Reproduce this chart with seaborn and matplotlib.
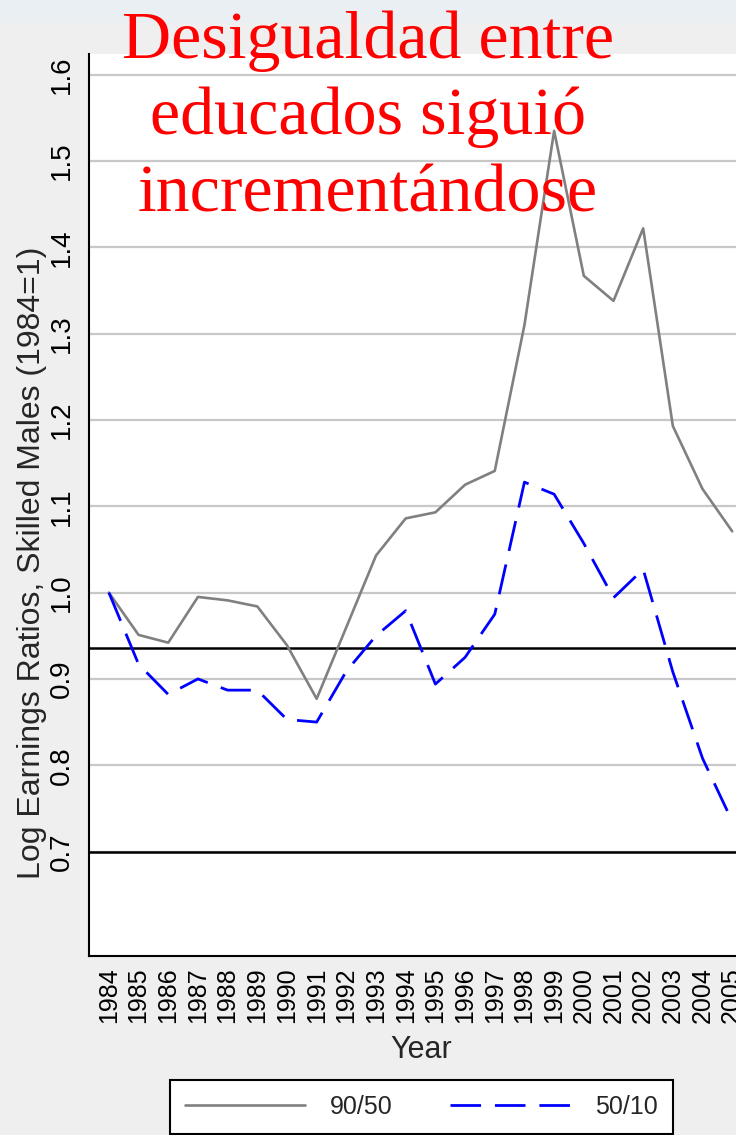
import numpy as np
import pandas as pd
import matplotlib
matplotlib.use("Agg")
import matplotlib.pyplot as plt
from matplotlib.patches import Rectangle
from matplotlib.lines import Line2D
import seaborn as sns

years = list(range(1984, 2006))
ratio_90_50 = [1.000, 0.951, 0.942, 0.995, 0.991, 0.984, 0.939, 0.877, 0.960, 1.043, 1.086,
               1.093, 1.125, 1.141, 1.310, 1.535, 1.367, 1.338, 1.422, 1.193, 1.120, 1.071]
ratio_50_10 = [1.000, 0.917, 0.882, 0.900, 0.887, 0.887, 0.853, 0.850, 0.909, 0.950, 0.979,
               0.894, 0.925, 0.975, 1.128, 1.114, 1.057, 0.994, 1.027, 0.908, 0.808, 0.735]
ref_lines = [0.936, 0.7]
title_lines = ["Desigualdad entre", "educados siguió", "incrementándose"]

df = pd.DataFrame({
    "year": years * 2,
    "ratio": ratio_90_50 + ratio_50_10,
    "series": ["90/50"] * len(years) + ["50/10"] * len(years),
})

sns.set_style("white")
plt.rcParams["font.family"] = ["Liberation Sans", "DejaVu Sans"]

W, H = 736, 1135
fig = plt.figure(figsize=(W / 100, H / 100), dpi=100, facecolor="#efefef")
fig.patches.append(Rectangle((0, 1 - 23 / H), 1, 23 / H, transform=fig.transFigure,
                             facecolor="#e9eff2", edgecolor="none", zorder=0))

ax = fig.add_axes([89 / W, 1 - 956 / H, (753 - 89) / W, (956 - 54) / H])
ax.set_facecolor("white")

sns.lineplot(data=df[df.series == "90/50"], x="year", y="ratio", color="#808080",
             linewidth=1.9, ax=ax, legend=False, zorder=3)
sns.lineplot(data=df[df.series == "50/10"], x="year", y="ratio", color="#0000ff",
             linewidth=2.0, ax=ax, legend=False, zorder=3)
ax.lines[1].set_dashes((11, 5))

for v in ref_lines:
    ax.axhline(v, color="black", linewidth=1.8, zorder=2)

ax.set_xlim(1983.33, 2005.7)
ax.set_ylim(0.579, 1.624)
ax.set_yticks(np.arange(0.7, 1.65, 0.1))
ax.set_yticklabels([f"{v:.1f}" for v in np.arange(0.7, 1.65, 0.1)])
ax.set_xticks(years)
ax.set_xticklabels([str(y) for y in years])
ax.yaxis.grid(True, color="#c8c8c8", linewidth=1.6, zorder=0)
ax.xaxis.grid(False)
ax.set_axisbelow(True)

for s in ["top", "right"]:
    ax.spines[s].set_visible(False)
for s in ["left", "bottom"]:
    ax.spines[s].set_color("black")
    ax.spines[s].set_linewidth(1.5)

ax.tick_params(axis="both", direction="in", length=8.5, width=1.4, color="black",
               labelcolor="black")
ax.tick_params(axis="y", labelrotation=90, pad=10, labelsize=20)
ax.tick_params(axis="x", labelrotation=90, pad=8, labelsize=18)
for lab in ax.get_yticklabels():
    lab.set_va("center")

ax.set_xlabel("Year", fontsize=22, labelpad=9)
ax.set_ylabel("Log Earnings Ratios, Skilled Males (1984=1)", fontsize=23)
ax.yaxis.set_label_coords((47 - 89) / (753 - 89), (956 - 563) / (956 - 54))

handles = [Line2D([], [], color="#808080", linewidth=1.9),
           Line2D([], [], color="#0000ff", linewidth=2.0, dashes=(11, 5))]
leg = fig.legend(handles, ["90/50", "50/10"], loc="upper center",
                 bbox_to_anchor=(421 / W, 1 - 1080 / H), bbox_transform=fig.transFigure,
                 ncol=2, fontsize=18, frameon=True, fancybox=False, framealpha=1,
                 edgecolor="black", handlelength=4.8, handletextpad=1.0,
                 columnspacing=2.3, borderpad=0.6, borderaxespad=0)
leg.get_frame().set_linewidth(1.5)

baselines = [58, 134, 212]
for txt, b in zip(title_lines, baselines):
    fig.text(368 / W, 1 - b / H, txt, ha="center", va="baseline", color="#ff0000",
             fontsize=49, family=["Liberation Serif", "DejaVu Serif"])

fig.savefig("out.png", dpi=100, facecolor=fig.get_facecolor())
